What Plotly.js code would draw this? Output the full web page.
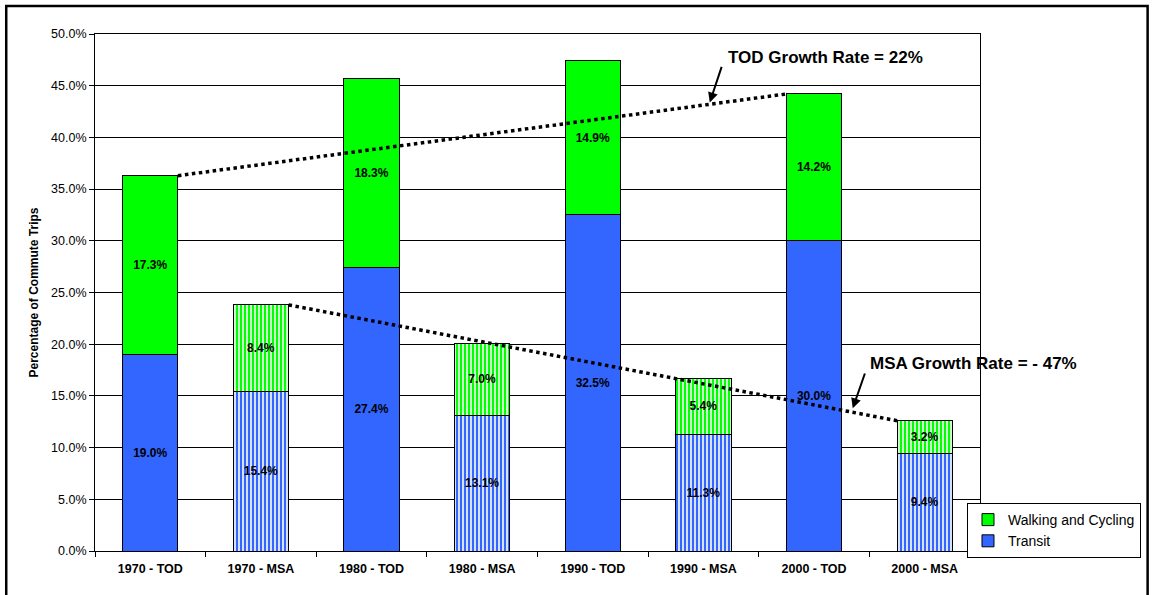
<!DOCTYPE html>
<html>
<head>
<meta charset="utf-8">
<script src="https://cdn.plot.ly/plotly-3.0.1.min.js"></script>
<style>
  html, body { margin: 0; padding: 0; background: #ffffff; }
  #chart { width: 1153px; height: 595px; }
</style>
</head>
<body>
<div id="chart"></div>
<script>
// Commute mode shares by year, TOD areas vs. metro (MSA) averages
const categories = ['1970 - TOD', '1970 - MSA', '1980 - TOD', '1980 - MSA',
                    '1990 - TOD', '1990 - MSA', '2000 - TOD', '2000 - MSA'];
const transit    = [19.0, 15.4, 27.4, 13.1, 32.5, 11.3, 30.0, 9.4];
const walkCycle  = [17.3,  8.4, 18.3,  7.0, 14.9,  5.4, 14.2, 3.2];
const yTicks     = [0, 5, 10, 15, 20, 25, 30, 35, 40, 45, 50];

const FONT = '"Liberation Sans", Arial, Helvetica, sans-serif';
const BAR_W = 0.5;
const GREEN = '#00ff00';
const BLUE = '#3366ff';

const idx = categories.map((_, i) => i);
const totals = idx.map(i => +(transit[i] + walkCycle[i]).toFixed(1));
// MSA columns are drawn with vertical hatching
const hatch = categories.map(c => c.indexOf('MSA') >= 0 ? '|' : '');

function barTrace(name, vals, color) {
  return {
    type: 'bar',
    name: name,
    x: idx,
    y: vals,
    width: BAR_W,
    text: vals.map(v => v.toFixed(1) + '%'),
    textposition: 'inside',
    insidetextanchor: 'middle',
    textangle: 0,
    constraintext: 'none',
    textfont: { family: FONT, size: 12, color: '#000000', weight: 'bold' },
    marker: {
      color: color,
      line: { color: '#000000', width: 1 },
      pattern: { shape: hatch, fgcolor: color, bgcolor: '#ffffff', size: 4, solidity: 0.6, fillmode: 'replace' }
    },
    hoverinfo: 'skip'
  };
}

// Trend line between the first and last column of a group, from bar edge to bar edge
function trend(tag) {
  const ids = idx.filter(i => categories[i].indexOf(tag) >= 0);
  const a = ids[0], b = ids[ids.length - 1];
  return { x0: a + BAR_W / 2, y0: totals[a], x1: b - BAR_W / 2, y1: totals[b],
           rate: (totals[b] - totals[a]) / totals[a] };
}
const todLine = trend('TOD');
const msaLine = trend('MSA');

function lineTrace(t) {
  return {
    type: 'scatter', mode: 'lines',
    x: [t.x0, t.x1], y: [t.y0, t.y1],
    line: { color: '#000000', width: 3.5, dash: 'dot' },
    showlegend: false, hoverinfo: 'skip', cliponaxis: false
  };
}
function pointOn(t, f) {
  return { x: t.x0 + (t.x1 - t.x0) * f, y: t.y0 + (t.y1 - t.y0) * f };
}
function rateLabel(tag, r) {
  const pct = Math.round(r * 100);
  return tag + ' Growth Rate = ' + (pct < 0 ? '- ' + Math.abs(pct) : pct) + '%';
}

const todTip = pointOn(todLine, 0.873);
const msaTip = pointOn(msaLine, 0.925);

const data = [
  barTrace('Transit', transit, BLUE),
  barTrace('Walking and Cycling', walkCycle, GREEN),
  lineTrace(todLine),
  lineTrace(msaLine)
];

const layout = {
  width: 1153, height: 595,
  paper_bgcolor: '#ffffff', plot_bgcolor: '#ffffff',
  margin: { l: 95, r: 171, t: 34, b: 44, pad: 0 },
  barmode: 'stack',
  font: { family: FONT, size: 12, color: '#000000' },
  xaxis: {
    type: 'linear',
    range: [-0.5, categories.length - 0.5],
    tickmode: 'array', tickvals: idx, ticktext: categories,
    ticks: '', showgrid: false, zeroline: false,
    showline: true, linecolor: '#000000', linewidth: 1, mirror: true,
    tickfont: { family: FONT, size: 12.5, color: '#000000', weight: 'bold' },
    ticklabelstandoff: 6,
    minor: { tick0: 0.5, dtick: 1, ticks: 'outside', ticklen: 5, tickcolor: '#000000', tickwidth: 1, showgrid: false }
  },
  yaxis: {
    range: [0, 50],
    tickmode: 'array', tickvals: yTicks, ticktext: yTicks.map(v => v.toFixed(1) + '%'),
    ticks: 'outside', ticklen: 5, tickcolor: '#000000',
    showgrid: true, gridcolor: '#000000', gridwidth: 1,
    zeroline: false,
    showline: true, linecolor: '#000000', linewidth: 1, mirror: true,
    tickfont: { family: FONT, size: 12.5, color: '#000000' },
    title: { text: 'Percentage of Commute Trips', standoff: 9,
             font: { family: FONT, size: 12, color: '#000000', weight: 'bold' } }
  },
  showlegend: true,
  legend: {
    x: 0.9853, y: 0.0928, xanchor: 'left', yanchor: 'top',
    bgcolor: '#ffffff', bordercolor: '#000000', borderwidth: 1,
    font: { family: FONT, size: 14, color: '#000000' },
    traceorder: 'reversed', tracegroupgap: 0
  },
  annotations: [
    { xref: 'x', yref: 'y', x: todTip.x, y: todTip.y, text: '', showarrow: true,
      ax: 13, ay: -39, arrowhead: 2, arrowsize: 1, arrowwidth: 2, arrowcolor: '#000000', standoff: 2 },
    { xref: 'x', yref: 'y', x: msaTip.x, y: msaTip.y, text: '', showarrow: true,
      ax: 14, ay: -40, arrowhead: 2, arrowsize: 1, arrowwidth: 2, arrowcolor: '#000000', standoff: 4 },
    { xref: 'paper', yref: 'paper', x: 0.7125, y: 0.9555, xanchor: 'left', yanchor: 'middle',
      text: rateLabel('TOD', todLine.rate), showarrow: false,
      font: { family: FONT, size: 17, color: '#000000', weight: 'bold' } },
    { xref: 'paper', yref: 'paper', x: 0.8737, y: 0.3636, xanchor: 'left', yanchor: 'middle',
      text: rateLabel('MSA', msaLine.rate), showarrow: false,
      font: { family: FONT, size: 17, color: '#000000', weight: 'bold' } }
  ],
  shapes: [
    // outer chart frame
    { type: 'rect', xref: 'paper', yref: 'paper',
      x0: -0.1003, x1: 1.1894, y0: -0.12, y1: 1.0542,
      line: { color: '#000000', width: 2.5 }, fillcolor: 'rgba(0,0,0,0)', layer: 'below' }
  ]
};

Plotly.newPlot('chart', data, layout, { displayModeBar: false, staticPlot: true });
</script>
</body>
</html>
